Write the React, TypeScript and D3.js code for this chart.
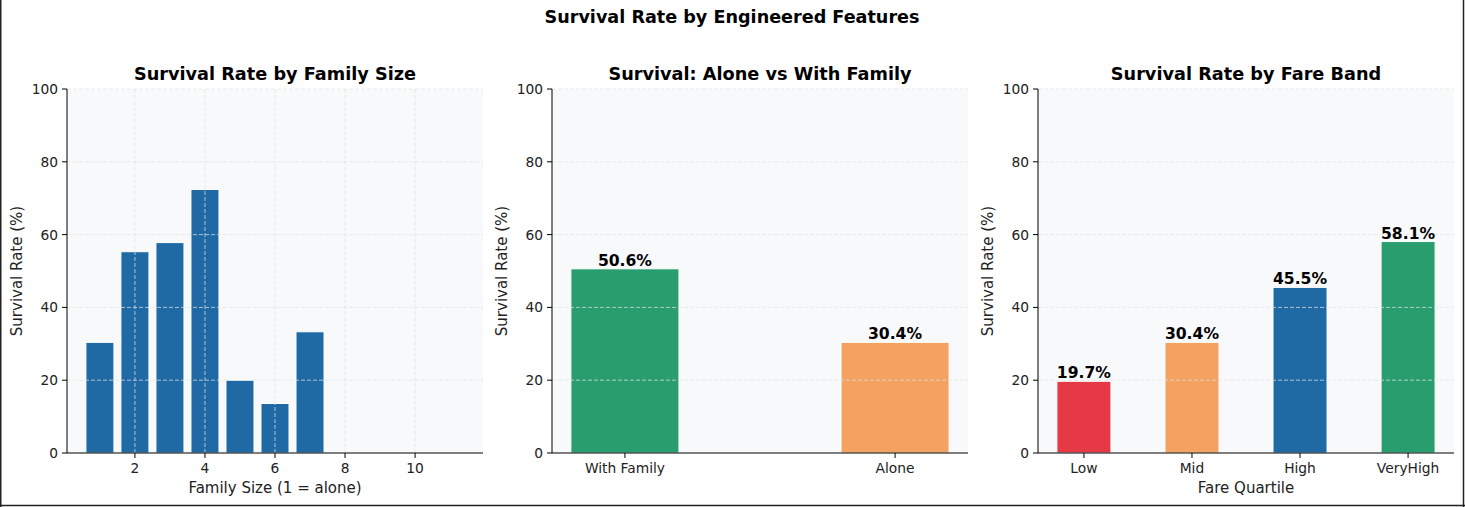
import React from 'react'
import * as d3 from 'd3'

// ---- data ----
const familySizes = [1, 2, 3, 4, 5, 6, 7, 8, 11]
const familyRates = [30.4, 55.3, 57.8, 72.4, 20.0, 13.6, 33.3, 0, 0]
const familyTicks = [2, 4, 6, 8, 10]

const aloneCats = ['With Family', 'Alone']
const aloneRates = [50.6, 30.4]

const fareCats = ['Low', 'Mid', 'High', 'VeryHigh']
const fareRates = [19.7, 30.4, 45.5, 58.1]

const yTicks = [0, 20, 40, 60, 80, 100]

const BLUE = '#1f6aa5'
const GREEN = '#2a9d6e'
const ORANGE = '#f4a261'
const RED = '#e63946'

const W = 1465
const H = 507
const top = 89
const bottom = 453
const font = 'DejaVu Sans, sans-serif'

type Bar = { x: number; v: number; color: string; label?: string }

type PanelProps = {
  left: number
  right: number
  title: string
  xLabel?: string
  xDomain: [number, number]
  xTicks: { v: number; t: string }[]
  bars: Bar[]
  barWidth: number
  vGrid: boolean
}

function Panel(p: PanelProps) {
  const x = d3.scaleLinear().domain(p.xDomain).range([p.left, p.right])
  const y = d3.scaleLinear().domain([0, 100]).range([bottom, top])
  const bw = x(p.barWidth) - x(0)
  const cx = (p.left + p.right) / 2
  const gridStyle = { stroke: '#e4e4e4', strokeWidth: 0.9, strokeDasharray: '4,2', opacity: 0.8 }
  return (
    <g>
      <rect x={p.left} y={top} width={p.right - p.left} height={bottom - top} fill="#f8f9fa" />
      {p.bars.map((b, i) => (
        <rect key={i} x={x(b.x) - bw / 2} y={y(b.v)} width={bw} height={y(0) - y(b.v)}
          fill={b.color} stroke="#ffffff" strokeWidth={1} />
      ))}
      {yTicks.slice(1).map(t => (
        <line key={'gy' + t} x1={p.left} x2={p.right} y1={y(t)} y2={y(t)} style={gridStyle} />
      ))}
      {p.vGrid && p.xTicks.map(t => (
        <line key={'gx' + t.v} x1={x(t.v)} x2={x(t.v)} y1={top} y2={bottom} style={gridStyle} />
      ))}
      {p.bars.filter(b => b.label).map((b, i) => (
        <text key={'l' + i} x={x(b.x)} y={y(b.v) - 3} textAnchor="middle" fontSize={15.6}
          fontWeight="bold" fill="#000">{b.label}</text>
      ))}
      <line x1={p.left} x2={p.left} y1={top} y2={bottom} stroke="#000" strokeWidth={1} />
      <line x1={p.left} x2={p.right} y1={bottom} y2={bottom} stroke="#000" strokeWidth={1} />
      {yTicks.map(t => (
        <g key={'ty' + t}>
          <line x1={p.left - 5} x2={p.left} y1={y(t)} y2={y(t)} stroke="#000" strokeWidth={1} />
          <text x={p.left - 9} y={y(t)} dy="0.36em" textAnchor="end" fontSize={13.8} fill="#222">{t}</text>
        </g>
      ))}
      {p.xTicks.map(t => (
        <g key={'tx' + t.v}>
          <line x1={x(t.v)} x2={x(t.v)} y1={bottom} y2={bottom + 5} stroke="#000" strokeWidth={1} />
          <text x={x(t.v)} y={bottom + 20} textAnchor="middle" fontSize={13.8} fill="#222">{t.t}</text>
        </g>
      ))}
      <text x={cx} y={80} textAnchor="middle" fontSize={17.7} fontWeight="bold" fill="#000">{p.title}</text>
      {p.xLabel && (
        <text x={cx} y={493} textAnchor="middle" fontSize={15} fill="#222">{p.xLabel}</text>
      )}
      <text transform={`translate(${p.left - 45},${(top + bottom) / 2}) rotate(-90)`} textAnchor="middle"
        fontSize={15} fill="#222">Survival Rate (%)</text>
    </g>
  )
}

export default function App() {
  const famBars: Bar[] = familySizes.map((s, i) => ({ x: s, v: familyRates[i], color: BLUE }))
  const aloneColors = [GREEN, ORANGE]
  const aloneBars: Bar[] = aloneCats.map((c, i) => ({ x: i, v: aloneRates[i], color: aloneColors[i], label: aloneRates[i].toFixed(1) + '%' }))
  const fareColors = [RED, ORANGE, BLUE, GREEN]
  const fareBars: Bar[] = fareCats.map((c, i) => ({ x: i, v: fareRates[i], color: fareColors[i], label: fareRates[i].toFixed(1) + '%' }))

  return (
    <div style={{ position: 'absolute', left: 0, top: 0 }}>
      <svg width={W} height={H} style={{ display: 'block', fontFamily: font }}>
        <rect width={W} height={H} fill="#fff" />
        <text x={732} y={23} textAnchor="middle" fontSize={17.6} fontWeight="bold" fill="#000">
          Survival Rate by Engineered Features
        </text>
        <Panel left={67} right={483} title="Survival Rate by Family Size" xLabel="Family Size (1 = alone)"
          xDomain={[0.06, 11.94]} xTicks={familyTicks.map(t => ({ v: t, t: String(t) }))}
          bars={famBars} barWidth={0.8} vGrid={true} />
        <Panel left={552} right={968} title="Survival: Alone vs With Family"
          xDomain={[-0.27, 1.27]} xTicks={aloneCats.map((c, i) => ({ v: i, t: c }))}
          bars={aloneBars} barWidth={0.4} vGrid={false} />
        <Panel left={1038} right={1454} title="Survival Rate by Fare Band" xLabel="Fare Quartile"
          xDomain={[-0.425, 3.425]} xTicks={fareCats.map((c, i) => ({ v: i, t: c }))}
          bars={fareBars} barWidth={0.5} vGrid={false} />
        <line x1={0.75} x2={0.75} y1={0} y2={H} stroke="#222" strokeWidth={1.5} />
        <line x1={W - 1.5} x2={W - 1.5} y1={0} y2={H} stroke="#222" strokeWidth={1.5} />
        <line x1={0} x2={W} y1={H - 1.5} y2={H - 1.5} stroke="#222" strokeWidth={1.5} />
      </svg>
    </div>
  )
}
